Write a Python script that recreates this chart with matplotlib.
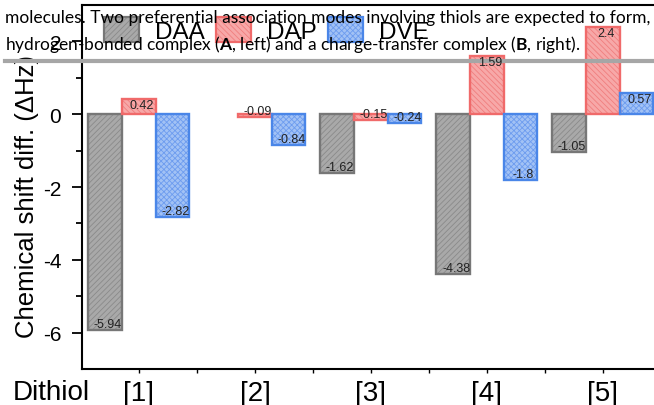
import numpy as np
import matplotlib.pyplot as plt
from matplotlib.patches import Patch
from matplotlib.lines import Line2D
from matplotlib.legend_handler import HandlerTuple

plt.rcParams['font.family'] = ['Liberation Sans', 'DejaVu Sans']
plt.rcParams['axes.unicode_minus'] = False
plt.rcParams['mathtext.fontset'] = 'custom'
plt.rcParams['mathtext.rm'] = 'Lato'
plt.rcParams['mathtext.bf'] = 'Lato:bold'
plt.rcParams['hatch.linewidth'] = 0.6

# data
dithiols = ['[1]', '[2]', '[3]', '[4]', '[5]']
series = ['DAA', 'DAP', 'DVE']
daa = [-5.94, np.nan, -1.62, -4.38, -1.05]
dap = [0.42, -0.09, -0.15, 1.59, 2.4]
dve = [-2.82, -0.84, -0.24, -1.8, 0.57]

faces = ['#a9a9a9', '#f7a8a8', '#a2c2f5']
hatch_cols = ['#8a8a8a', '#f07e7e', '#6d9cef']
edges = ['#777777', '#f06a6a', '#4a86e8']
hatches = ['//////', '\\\\\\\\\\\\', 'xxxxxx']

fig = plt.figure(figsize=(6.54, 4.06), dpi=100)
ax = fig.add_axes([82 / 654, 36 / 406, 572 / 654, 364 / 406])

x = np.arange(len(dithiols))
w = 0.29
handles = []
for k, vals in enumerate([daa, dap, dve]):
    pos = x + (k - 1) * w
    v = np.array(vals, dtype=float)
    ax.bar(pos, v, w, color=faces[k], edgecolor=hatch_cols[k], linewidth=0,
           hatch=hatches[k], zorder=2)
    ax.bar(pos, v, w, fill=False, edgecolor=edges[k], linewidth=1.7, zorder=3)
    for p, val in zip(pos, v):
        if np.isnan(val):
            continue
        ax.annotate('%g' % val, (p, val), xytext=(2, 0), textcoords='offset points',
                    ha='center', va='top' if val > 0 else 'bottom',
                    fontsize=9, color='#222222', zorder=5)
    handles.append((Patch(facecolor=faces[k], edgecolor=hatch_cols[k], linewidth=0, hatch=hatches[k]),
                    Patch(fill=False, edgecolor=edges[k], linewidth=1.6)))

ax.set_xlim(-0.491, 4.44)
ax.set_ylim(-7, 3)
ax.set_xticks(x)
ax.set_xticklabels(dithiols, fontsize=20)
ax.set_xticks(x[:-1] + 0.5, minor=True)
ax.set_yticks([-6, -4, -2, 0, 2])
ax.set_yticks([-5, -3, -1, 1], minor=True)
ax.tick_params(axis='y', which='major', length=7, width=1.3, labelsize=15, pad=8)
ax.tick_params(axis='y', which='minor', length=4, width=1.3)
ax.tick_params(axis='x', which='both', length=3, width=1.0, pad=5)
ax.spines['right'].set_visible(False)
for s in ['left', 'bottom', 'top']:
    ax.spines[s].set_linewidth(1.5)

ax.set_ylabel('Chemical shift diff. (ΔHz)', fontsize=18.5)
ax.yaxis.set_label_coords(-0.076, 0.478)
fig.text(13 / 654, 1 - 400 / 406, 'Dithiol', fontsize=20, ha='left', va='baseline')

ax.legend(handles, series, handler_map={tuple: HandlerTuple(ndivide=1)},
          ncol=3, frameon=False, fontsize=17.5, loc='upper left',
          bbox_to_anchor=(104 / 654, 1 - 18 / 406), bbox_transform=fig.transFigure,
          borderpad=0, borderaxespad=0, handlelength=1.45, handleheight=1.2,
          handletextpad=0.66, columnspacing=0.45)

# overlaid page rule (under the value labels) and page text
ax.add_line(Line2D([5 / 654, 1], [1 - 62 / 406] * 2, color='#a6a6a6', lw=3,
                   transform=fig.transFigure, clip_on=False, zorder=4))
fig.text(5 / 654, 1 - 23 / 406,
         'molecules. Two preferential association modes involving thiols are expected to form,',
         family='Lato', fontsize=12.5, va='baseline', zorder=11)
fig.text(5 / 654, 1 - 50 / 406,
         r'hydrogen-bonded complex ($\mathbf{A}$, left) and a charge-transfer complex ($\mathbf{B}$, right).',
         family='Lato', fontsize=12.5, va='baseline', zorder=11)

fig.savefig('out.png', dpi=100)
